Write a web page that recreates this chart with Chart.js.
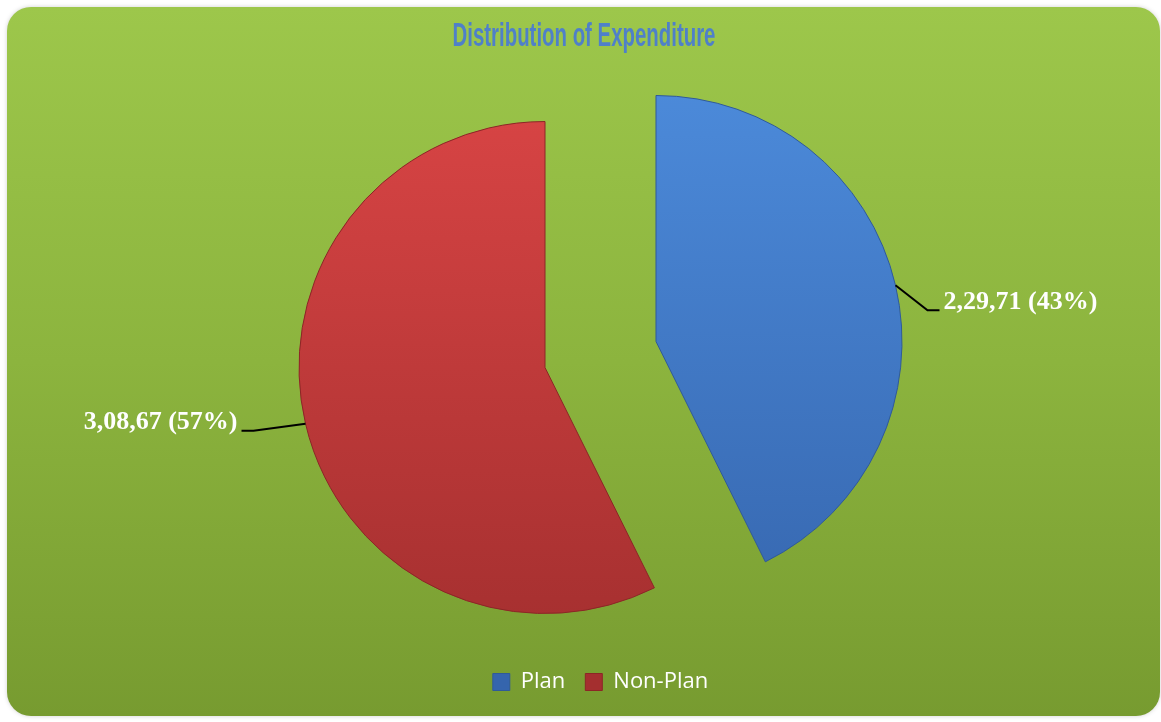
<!DOCTYPE html>
<html>
<head>
<meta charset="utf-8">
<title>Distribution of Expenditure</title>
<script src="https://cdn.jsdelivr.net/npm/chart.js@4.4.1/dist/chart.umd.min.js"></script>
<style>
    html, body { margin: 0; padding: 0; background: #ffffff; }
    #wrap { width: 1161px; height: 722px; }
</style>
</head>
<body>
<div id="wrap"><canvas id="expenditure-chart" width="1161" height="722"></canvas></div>
<script>
// Data
const chartTitle = 'Distribution of Expenditure';
const categories = ['Plan', 'Non-Plan'];
const amounts = [22971, 30867];
const sliceTop = ['#4d8cdc', '#dc4646'];
const sliceBottom = ['#3565ad', '#a42f2f'];
const sliceEdge = ['#2f5a99', '#8c2626'];

// Label placement: elbow and tail of the leader line, per slice
const leaderElbow = [[32, 25], [-52, 7]];
const leaderTail = [12, -12];
const explodeBy = 57;

// 22971 -> "2,29,71" (groups of two from the right)
function formatPairs(n) {
    let s = String(n);
    const parts = [];
    while (s.length > 2) {
        parts.unshift(s.slice(-2));
        s = s.slice(0, -2);
    }
    if (s.length) parts.unshift(s);
    return parts.join(',');
}

const total = amounts.reduce((a, b) => a + b, 0);

// Rounded green panel behind everything
const panelBackground = {
    id: 'panelBackground',
    beforeDraw(chart) {
        const ctx = chart.ctx;
        const x = 7, y = 7, w = chart.width - 8, h = chart.height - 13, r = 24;
        const grad = ctx.createLinearGradient(0, y, 0, y + h);
        grad.addColorStop(0, '#9dc74b');
        grad.addColorStop(0.5, '#8cb43e');
        grad.addColorStop(1, '#779b30');
        ctx.save();
        ctx.shadowColor = 'rgba(0,0,0,0.18)';
        ctx.shadowBlur = 4;
        ctx.beginPath();
        ctx.roundRect(x, y, w, h, r);
        ctx.fillStyle = grad;
        ctx.fill();
        ctx.restore();
    }
};

// Condensed heading across the top of the panel
const condensedTitle = {
    id: 'condensedTitle',
    afterDraw(chart) {
        const ctx = chart.ctx;
        ctx.save();
        ctx.translate(584, 37);
        ctx.scale(0.6, 1);
        ctx.font = 'bold 34px "Liberation Sans", Arial, sans-serif';
        ctx.textAlign = 'center';
        ctx.textBaseline = 'middle';
        ctx.fillStyle = '#4f80c9';
        ctx.fillText(chartTitle, 0, 0);
        ctx.restore();
    }
};

// Pull each slice out along its mid angle
const explodeSlices = {
    id: 'explodeSlices',
    afterDatasetUpdate(chart, args) {
        args.meta.data.forEach(arc => {
            const mid = (arc.startAngle + arc.endAngle) / 2;
            arc.x += Math.cos(mid) * explodeBy;
            arc.y += Math.sin(mid) * explodeBy;
        });
    }
};

// Value labels with leader lines
const sliceLabels = {
    id: 'sliceLabels',
    afterDatasetsDraw(chart) {
        const ctx = chart.ctx;
        const meta = chart.getDatasetMeta(0);
        ctx.save();
        ctx.font = 'bold 26px "Liberation Serif", "Times New Roman", serif';
        ctx.textBaseline = 'middle';
        meta.data.forEach((arc, i) => {
            const mid = (arc.startAngle + arc.endAngle) / 2;
            const sx = arc.x + Math.cos(mid) * arc.outerRadius;
            const sy = arc.y + Math.sin(mid) * arc.outerRadius;
            const ex = sx + leaderElbow[i][0];
            const ey = sy + leaderElbow[i][1];
            const tx = ex + leaderTail[i];

            ctx.beginPath();
            ctx.moveTo(sx, sy);
            ctx.lineTo(ex, ey);
            ctx.lineTo(tx, ey);
            ctx.strokeStyle = '#000000';
            ctx.lineWidth = 2;
            ctx.stroke();

            const pct = Math.round(amounts[i] / total * 100);
            const text = formatPairs(amounts[i]) + ' (' + pct + '%)';
            const right = leaderTail[i] > 0;
            ctx.textAlign = right ? 'left' : 'right';
            ctx.fillStyle = '#ffffff';
            ctx.fillText(text, tx + (right ? 4 : -4), ey - 8);
        });
        ctx.restore();
    }
};

function sliceFill(context) {
    const i = context.dataIndex;
    const area = context.chart.chartArea;
    if (!area) return sliceTop[i];
    const grad = context.chart.ctx.createLinearGradient(0, area.top, 0, area.bottom);
    grad.addColorStop(0, sliceTop[i]);
    grad.addColorStop(1, sliceBottom[i]);
    return grad;
}

const ctx = document.getElementById('expenditure-chart').getContext('2d');

new Chart(ctx, {
    type: 'pie',
    data: {
        labels: categories,
        datasets: [{
            data: amounts,
            backgroundColor: sliceFill,
            borderColor: sliceEdge,
            borderWidth: 1
        }]
    },
    options: {
        responsive: false,
        animation: false,
        radius: 246,
        layout: {
            padding: { top: 58, bottom: 19, left: 40, right: 0 }
        },
        plugins: {
            title: { display: false },
            legend: {
                position: 'bottom',
                labels: {
                    color: '#ffffff',
                    boxWidth: 17,
                    boxHeight: 17,
                    padding: 20,
                    font: { family: '"Open Sans", "Noto Sans", sans-serif', size: 22 }
                }
            },
            tooltip: { enabled: false }
        }
    },
    plugins: [panelBackground, explodeSlices, sliceLabels, condensedTitle]
});
</script>
</body>
</html>
